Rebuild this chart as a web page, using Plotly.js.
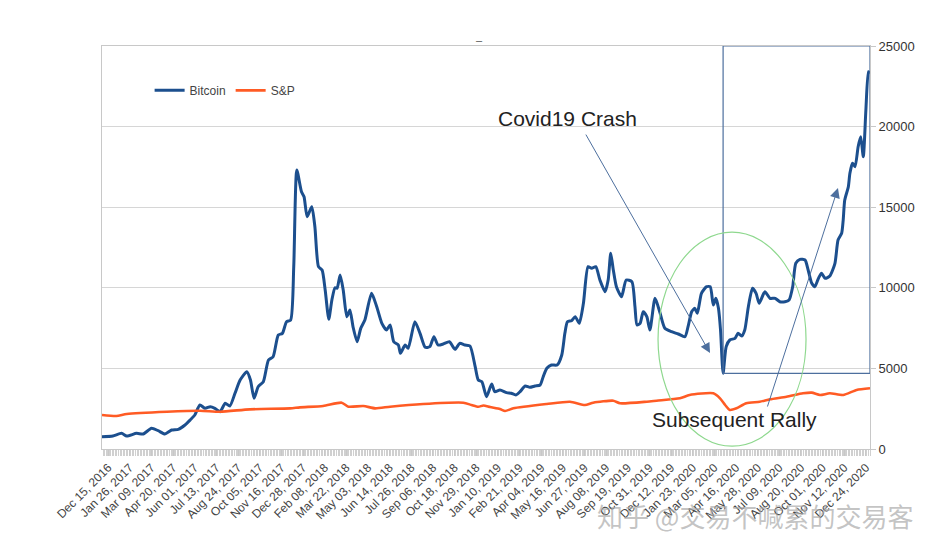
<!DOCTYPE html>
<html>
<head>
<meta charset="utf-8">
<script src="https://cdn.plot.ly/plotly-3.0.1.min.js"></script>
<style>
html,body{margin:0;padding:0;background:#fff;}
#chart{width:943px;height:554px;}
</style>
</head>
<body>
<div id="chart"></div>
<script>
// ---- data ----
const btcDates = [
"2016-12-03","2016-12-24","2017-01-10","2017-01-20","2017-02-08","2017-02-21","2017-03-09","2017-03-22","2017-04-04","2017-04-17",
"2017-04-30","2017-05-13","2017-05-23","2017-06-01","2017-06-11","2017-06-21","2017-07-01","2017-07-10","2017-07-20","2017-07-30",
"2017-08-08","2017-08-18","2017-08-28","2017-09-10","2017-09-17","2017-09-24","2017-10-02","2017-10-12","2017-10-22","2017-10-31",
"2017-11-10","2017-11-18","2017-11-26","2017-12-04","2017-12-10","2017-12-16","2017-12-25","2017-12-30","2018-01-05","2018-01-14",
"2018-01-20","2018-01-27","2018-02-03","2018-02-09","2018-02-16","2018-02-22","2018-02-28","2018-03-04","2018-03-10","2018-03-16",
"2018-03-23","2018-03-29","2018-04-04","2018-04-12","2018-04-19","2018-04-27","2018-05-10","2018-05-20","2018-05-30","2018-06-08",
"2018-06-15","2018-06-22","2018-07-01","2018-07-05","2018-07-14","2018-07-20","2018-08-02","2018-08-12","2018-08-22","2018-08-31",
"2018-09-08","2018-09-16","2018-09-26","2018-10-08","2018-10-19","2018-10-28","2018-11-07","2018-11-17","2018-11-27","2018-12-03",
"2018-12-10","2018-12-19","2018-12-29","2019-01-04","2019-01-14","2019-01-27","2019-02-05","2019-02-14","2019-02-22","2019-03-04",
"2019-03-13","2019-03-23","2019-04-02","2019-04-08","2019-04-15","2019-04-24","2019-05-05","2019-05-14","2019-05-20","2019-05-25",
"2019-06-02","2019-06-09","2019-06-17","2019-06-25","2019-07-04","2019-07-11","2019-07-19","2019-07-27","2019-08-06","2019-08-12",
"2019-08-17","2019-08-22","2019-08-28","2019-09-07","2019-09-16","2019-09-27","2019-10-03","2019-10-07","2019-10-13","2019-10-19",
"2019-10-26","2019-11-01","2019-11-11","2019-11-20","2019-11-30","2019-12-13","2019-12-26","2020-01-08","2020-01-14","2020-01-21",
"2020-01-27","2020-02-01","2020-02-09","2020-02-19","2020-02-26","2020-03-03","2020-03-08","2020-03-13","2020-03-17","2020-03-22",
"2020-03-28","2020-04-04","2020-04-14","2020-04-20","2020-04-27","2020-05-03","2020-05-10","2020-05-18","2020-05-25","2020-05-31",
"2020-06-11","2020-06-21","2020-07-01","2020-07-10","2020-07-20","2020-07-28","2020-08-04","2020-08-10","2020-08-18","2020-08-28",
"2020-09-03","2020-09-10","2020-09-16","2020-09-23","2020-09-29","2020-10-06","2020-10-15","2020-10-25","2020-10-31","2020-11-07",
"2020-11-10","2020-11-13","2020-11-20","2020-11-23","2020-11-28","2020-12-03","2020-12-09","2020-12-14","2020-12-19","2020-12-24",
"2020-12-29","2021-01-01"
];
const btcValues = [
760,806,973,806,973,930,1284,1135,930,1178,
1222,1489,1799,2109,2729,2523,2624,2523,2314,2835,
2667,3455,4280,4795,4280,3145,3865,4175,5520,5725,
7071,7175,7897,8002,11310,17306,15960,15650,14410,15030,
13790,11310,11103,9863,8045,9243,10006,9968,10793,9863,
8207,8622,7586,6656,7483,8002,9657,8828,7797,7382,
7692,6656,6451,5936,6451,6246,7897,7175,6307,6349,
6966,6451,6513,6656,6184,6556,6451,6389,5105,4280,
4175,3244,4032,3555,3660,3495,3455,3350,3555,3908,
3825,3908,3970,4485,5006,5210,5210,5831,7175,7897,
7960,8207,7797,9038,11310,11206,11310,10483,9757,10483,
12139,11103,10067,9447,10483,10378,8828,7692,7797,8517,
8207,7382,9348,8517,7486,7276,7134,6966,7586,8517,
8725,8415,9657,10067,10067,8932,9348,8725,7382,4694,
6349,6761,6866,7175,7010,7382,8828,9968,9657,9038,
9757,9348,9348,9138,9138,9243,10067,11520,11765,11724,
11103,10276,10067,10588,10900,10588,10731,11520,12965,13380,
14205,15445,16270,17102,17722,17511,18752,19372,18131,21028,
23404,23300
];
const spxDates = [
"2016-12-03","2016-12-31","2017-01-20","2017-04-08","2017-06-11","2017-07-20","2017-09-16","2017-12-03","2017-12-22","2018-02-05",
"2018-03-13","2018-03-26","2018-04-24","2018-05-17","2018-06-15","2018-08-18","2018-11-04","2018-11-20","2018-12-03","2018-12-13",
"2018-12-26","2019-01-14","2019-01-24","2019-02-09","2019-04-15","2019-05-30","2019-06-28","2019-07-14","2019-08-22","2019-09-04",
"2019-10-26","2019-11-14","2019-12-29","2020-01-17","2020-03-03","2020-03-16","2020-03-26","2020-04-04","2020-04-17","2020-05-06",
"2020-06-01","2020-06-21","2020-07-23","2020-08-24","2020-09-10","2020-09-26","2020-10-15","2020-11-10","2020-12-06","2021-01-01"
];
const spxValues = [
2110,2050,2171,2314,2376,2314,2460,2523,2585,2667,
2872,2624,2667,2523,2624,2791,2872,2729,2620,2700,
2600,2480,2357,2523,2791,2934,2729,2872,2996,2835,
2934,2996,3145,3350,3455,3145,2729,2419,2523,2835,
2934,3083,3244,3455,3495,3350,3455,3350,3660,3765
];
const seriesNames = ["Bitcoin","S&P"];
const yTicks = [0,5000,10000,15000,20000,25000];
const annotationTexts = ["Covid19 Crash","Subsequent Rally"];
const watermark = "知乎 @交易不喊累的交易客";

const BLUE = "#1c4f8e";
const ORANGE = "#ff5b24";
const ARROW = "#4d6f9e";
const FONT = "Liberation Sans, Arial, sans-serif";

const traces = [
  {x: btcDates, y: btcValues, name: seriesNames[0], type: "scatter", mode: "lines",
   line: {color: BLUE, width: 3, shape: "spline", smoothing: 0.6}},
  {x: spxDates, y: spxValues, name: seriesNames[1], type: "scatter", mode: "lines",
   line: {color: ORANGE, width: 2.6, shape: "spline", smoothing: 0.6}}
];

const layout = {
  width: 943, height: 554,
  margin: {l: 102, r: 73, t: 46, b: 105},
  paper_bgcolor: "#fff", plot_bgcolor: "#fff",
  font: {family: FONT, color: "#333"},
  showlegend: true,
  legend: {orientation: "h", x: 0.062, y: 0.89, xanchor: "left", yanchor: "middle",
           font: {size: 12, color: "#444"}, bgcolor: "rgba(0,0,0,0)", itemwidth: 30, tracegroupgap: 0},
  xaxis: {
    type: "date",
    range: ["2016-12-03", "2021-01-01"],
    tick0: "2016-12-15", dtick: 42 * 86400000,
    tickformat: "%b %d, %Y",
    tickangle: -45,
    tickfont: {size: 12, color: "#444"},
    showgrid: false, zeroline: false,
    showline: true, linecolor: "#c8c8c8", linewidth: 1, mirror: true,
    ticks: "outside", ticklen: 6, tickcolor: "#c8c8c8",
    minor: {dtick: 3 * 86400000, ticks: "outside", ticklen: 6, tickcolor: "#d0d0d0", showgrid: false}
  },
  yaxis: {
    side: "right",
    range: [0, 25000],
    tickvals: yTicks, tickformat: "d",
    tickfont: {size: 13, color: "#333"},
    showgrid: true, gridcolor: "#d6d6d6", gridwidth: 1,
    zeroline: false,
    showline: true, linecolor: "#c8c8c8", mirror: true,
    ticks: "outside", ticklen: 5, tickcolor: "#c8c8c8"
  },
  shapes: [
    {type: "rect", xref: "x", yref: "y", x0: "2020-03-22", x1: "2021-01-01", y0: 4694, y1: 25000,
     line: {color: ARROW, width: 1.2}, fillcolor: "rgba(0,0,0,0)"},
    {type: "circle", xref: "paper", yref: "paper", x0: 0.724, x1: 0.9167, y0: 0.007, y1: 0.538,
     line: {color: "#8ed88e", width: 1.2}, fillcolor: "rgba(0,0,0,0)"}
  ],
  annotations: [
    {text: "–", xref: "paper", yref: "paper", x: 0.492, y: 1.015, xanchor: "center", yanchor: "middle",
     showarrow: false, font: {size: 11, color: "#555"}},
    {text: annotationTexts[0], xref: "paper", yref: "paper", x: 0.6055, y: 0.819,
     xanchor: "center", yanchor: "middle", showarrow: false, font: {size: 21, color: "#222"}},
    {text: "", xref: "paper", yref: "paper", x: 0.7917, y: 0.238, ax: -125, ay: -220,
     showarrow: true, arrowhead: 2, arrowsize: 2, arrowwidth: 1, arrowcolor: ARROW},
    {text: annotationTexts[1], xref: "paper", yref: "paper", x: 0.8242, y: 0.074,
     xanchor: "center", yanchor: "middle", showarrow: false, font: {size: 21, color: "#222"}},
    {text: "", xref: "paper", yref: "paper", x: 0.9583, y: 0.6476, ax: -71, ay: 220,
     showarrow: true, arrowhead: 2, arrowsize: 2, arrowwidth: 1, arrowcolor: ARROW},
    {text: watermark, xref: "paper", yref: "paper", x: 1.059, y: -0.166, xanchor: "right", yanchor: "middle",
     showarrow: false, font: {size: 26, family: "Noto Sans CJK SC", color: "rgba(170,170,170,0.7)"}}
  ]
};

Plotly.newPlot("chart", traces, layout, {displayModeBar: false, staticPlot: true});
</script>
</body>
</html>
